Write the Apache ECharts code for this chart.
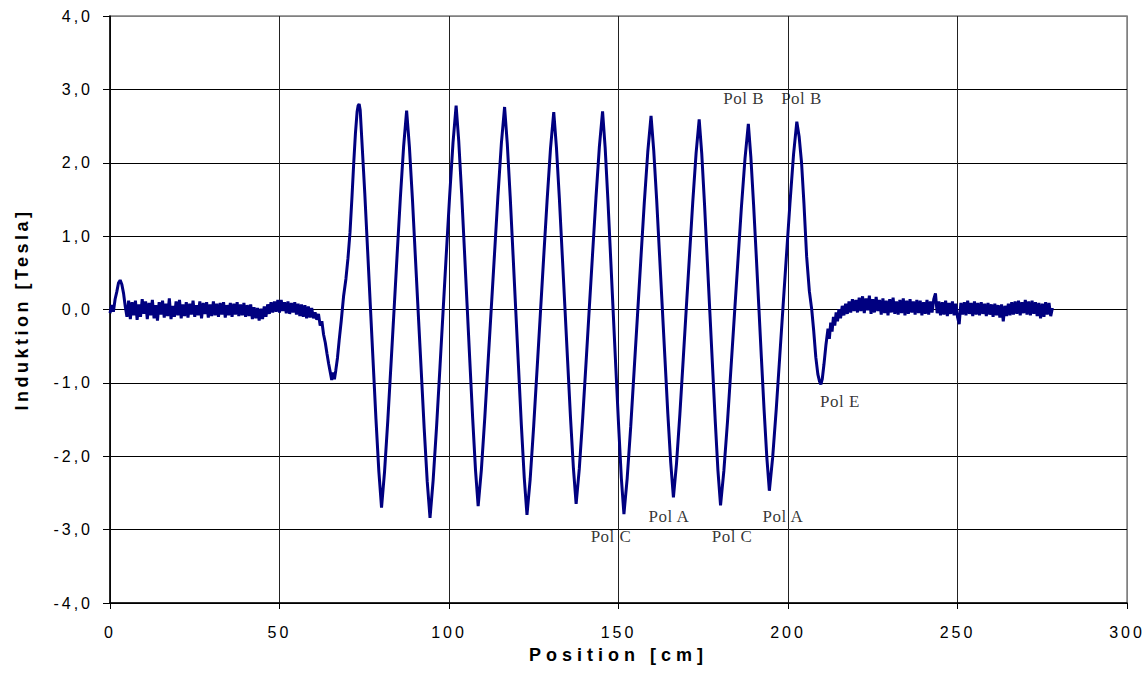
<!DOCTYPE html>
<html>
<head>
<meta charset="utf-8">
<script src="https://cdn.jsdelivr.net/npm/echarts@6/dist/echarts.min.js"></script>
<style>
html,body{margin:0;padding:0;background:#fff;}
#chart{width:1148px;height:685px;}
</style>
</head>
<body>
<div id="chart"></div>
<script>
// ---- data (position in cm, induction in Tesla) ----
var xTicks = [0, 50, 100, 150, 200, 250, 300];
var yTicks = [-4, -3, -2, -1, 0, 1, 2, 3, 4];

// left flat part: sampled every 0.5 cm from 0 cm
var leftStart = 0, leftStep = 0.5;
var leftValues = [
 -0.05,0.06,-0.03,0.14,0.24,0.36,0.4,0.34,0.22,0.04,-0.1,0.12,
 -0.13,0.1,-0.08,0.12,-0.14,0.07,-0.1,0.14,-0.06,0.11,-0.13,0.09,
 -0.08,0.13,-0.12,0.06,-0.15,0.1,-0.07,0.12,-0.11,0.08,-0.09,0.15,
 -0.13,0.05,-0.1,0.11,-0.08,0.13,-0.12,0.07,-0.09,0.1,-0.11,0.08,
 -0.07,0.12,-0.1,0.06,-0.08,0.11,-0.12,0.09,-0.06,0.1,-0.11,0.07,
 -0.09,0.11,-0.08,0.08,-0.1,0.09,-0.07,0.1,-0.11,0.06,-0.08,0.09,
 -0.1,0.08,-0.07,0.1,-0.09,0.07,-0.08,0.09,-0.1,0.06,-0.09,0.07,
 -0.13,0.03,-0.12,0.02,-0.15,0.01,-0.13,0.04,-0.1,0.07,-0.06,0.1,
 -0.04,0.11,-0.03,0.13,-0.04,0.13,-0.02,0.1,-0.05,0.11,-0.06,0.09,
 -0.04,0.1,-0.07,0.08,-0.09,0.07,-0.1,0.06,-0.12,0.04,-0.11,0.02,
 -0.12
];

// pole region: positions (cm) and values (T)
var poleX = [
 60.5,61,61.5,62,62.5,63,63.5,64,64.5,65,65.4,65.8,66.2,66.6,67.1,67.6,68.2,68.9,69.6,70.2,70.8,71.4,71.9,72.4,72.9,73.2,73.5,73.8,
 74.29,75.15,76.01,76.8,77.59,78.45,79.31,80.1,
 80.99,81.95,82.91,83.8,84.69,85.65,86.61,87.5,
 88.33,89.23,90.12,90.95,91.78,92.68,93.57,94.4,
 95.32,96.33,97.33,98.25,99.17,100.18,101.18,102.1,
 102.88,103.73,104.57,105.35,106.13,106.98,107.82,108.6,
 109.54,110.55,111.56,112.5,113.44,114.45,115.46,116.4,
 117.19,118.05,118.91,119.7,120.49,121.35,122.21,123.0,
 123.95,124.98,126.0,126.95,127.9,128.93,129.95,130.9,
 131.69,132.55,133.41,134.2,134.99,135.85,136.71,137.5,
 138.44,139.45,140.46,141.4,142.34,143.35,144.36,145.3,
 146.06,146.88,147.69,148.45,149.21,150.03,150.84,151.6,
 152.56,153.6,154.64,155.6,156.56,157.6,158.64,159.6,
 160.39,161.25,162.11,162.9,163.69,164.55,165.41,166.2,
 167.11,168.1,169.09,170.0,170.91,171.9,172.89,173.8,
 174.56,175.38,176.19,176.95,177.71,178.53,179.34,180.1,
 181.08,182.15,183.22,184.2,185.18,186.25,187.32,188.3,
 189.04,189.85,190.66,191.4,192.14,192.95,193.76,194.5,
 195.47,196.53,197.58,198.55,199.52,200.58,201.63,202.6,
 203.3,204.0,204.7,205.5,206.3,207.0,207.6,208.2,208.8,209.3,209.7,210.1,210.6,211.2,
 211.8,212.2,212.6,213.0,213.4,213.8,214.2,214.6,215,215.5,216,216.5,217,217.5,218,218.5,219,219.5
];
var poleValues = [
 -0.04,-0.14,-0.06,-0.22,-0.16,-0.34,-0.45,-0.6,-0.74,-0.86,-0.96,-0.86,-0.95,-0.83,-0.66,-0.42,-0.16,0.18,0.42,0.7,1.05,1.55,2.0,2.4,2.7,2.78,2.8,2.72,
 2.31,1.59,0.79,0.05,-0.69,-1.49,-2.21,-2.70,
 -2.21,-1.51,-0.73,0.0,0.74,1.52,2.22,2.71,
 2.21,1.49,0.68,-0.07,-0.81,-1.62,-2.34,-2.84,
 -2.33,-1.60,-0.79,-0.03,0.73,1.54,2.27,2.78,
 2.29,1.58,0.79,0.05,-0.69,-1.48,-2.19,-2.68,
 -2.19,-1.48,-0.69,0.04,0.77,1.56,2.27,2.76,
 2.26,1.54,0.73,-0.02,-0.77,-1.58,-2.30,-2.80,
 -2.31,-1.59,-0.80,-0.06,0.69,1.48,2.20,2.69,
 2.21,1.52,0.74,0.02,-0.70,-1.48,-2.17,-2.65,
 -2.17,-1.47,-0.70,0.03,0.75,1.52,2.22,2.70,
 2.21,1.49,0.70,-0.05,-0.79,-1.58,-2.30,-2.79,
 -2.30,-1.60,-0.81,-0.08,0.66,1.45,2.15,2.64,
 2.17,1.50,0.74,0.04,-0.66,-1.42,-2.09,-2.56,
 -2.10,-1.43,-0.68,0.02,0.71,1.46,2.13,2.59,
 2.12,1.43,0.67,-0.04,-0.75,-1.51,-2.20,-2.67,
 -2.20,-1.53,-0.77,-0.07,0.63,1.39,2.06,2.53,
 2.08,1.43,0.71,0.03,-0.65,-1.37,-2.02,-2.47,
 -2.02,-1.36,-0.63,0.05,0.72,1.45,2.11,2.56,
 2.35,2.0,1.45,0.72,0.25,0.0,-0.3,-0.65,-0.88,-0.98,-1.02,-0.95,-0.75,-0.48,
 -0.26,-0.4,-0.18,-0.3,-0.1,-0.22,-0.04,-0.16,0.0,-0.12,0.05,-0.08,0.08,-0.06,0.11,-0.04,0.14,-0.02
];

// right flat part: sampled every 0.5 cm from 220 cm
var rightStart = 220, rightStep = 0.5;
var rightValues = [
 0.13,-0.04,0.16,-0.02,0.18,-0.05,0.15,-0.01,0.19,-0.06,0.14,-0.04,
 0.17,-0.02,0.13,-0.07,0.15,-0.05,0.12,-0.08,0.14,-0.04,0.16,-0.06,
 0.11,-0.07,0.13,-0.05,0.15,-0.08,0.12,-0.06,0.14,-0.04,0.11,-0.07,
 0.13,-0.05,0.12,-0.08,0.1,-0.06,0.13,-0.07,0.11,-0.04,0.14,0.22,
 -0.05,0.11,-0.08,0.1,-0.07,0.12,-0.09,0.09,-0.06,0.11,-0.08,0.08,
 -0.1,-0.2,0.09,-0.07,0.1,-0.08,0.12,-0.06,0.09,-0.09,0.11,-0.07,
 0.09,-0.08,0.1,-0.06,0.08,-0.09,0.09,-0.07,0.07,-0.1,0.08,-0.08,
 0.06,-0.11,0.07,-0.16,0.05,-0.09,0.08,-0.08,0.1,-0.07,0.11,-0.06,
 0.12,-0.08,0.1,-0.05,0.13,-0.07,0.11,-0.08,0.12,-0.06,0.1,-0.09,
 0.09,-0.12,0.08,-0.1,0.1,-0.07,0.09,-0.09,0.02
];

// annotations: [position cm, value T, text]
var poleLabels = [
 [186.9, 2.88, 'Pol B'],
 [204.0, 2.88, 'Pol B'],
 [215.3, -1.25, 'Pol E'],
 [164.9, -2.82, 'Pol A'],
 [198.5, -2.82, 'Pol A'],
 [147.8, -3.09, 'Pol C'],
 [183.5, -3.09, 'Pol C']
];

// ---- build series data ----
var curve = [];
leftValues.forEach(function (v, i) { curve.push([leftStart + i * leftStep, v]); });
poleX.forEach(function (x, i) { curve.push([x, poleValues[i]]); });
rightValues.forEach(function (v, i) { curve.push([rightStart + i * rightStep, v]); });

var sans = "'Liberation Sans', Arial, sans-serif";
var serif = "'Liberation Serif', 'Times New Roman', serif";

var chart = echarts.init(document.getElementById('chart'), null, {renderer: 'svg'});
chart.setOption({
  animation: false,
  backgroundColor: '#ffffff',
  grid: {left: 110, right: 21, top: 16, bottom: 82, show: true, borderColor: '#808080', borderWidth: 1.5, backgroundColor: 'transparent'},
  xAxis: {
    type: 'value', min: xTicks[0], max: xTicks[xTicks.length - 1], interval: 50,
    name: 'Position [cm]', nameLocation: 'middle', nameGap: 43,
    nameTextStyle: {fontFamily: sans, fontWeight: 'bold', fontSize: 18, color: '#000000'},
    axisLine: {show: true, onZero: false, lineStyle: {color: '#000', width: 1.5}},
    axisTick: {show: true, length: 6, lineStyle: {color: '#000'}},
    axisLabel: {margin: 21, fontFamily: sans, fontSize: 16, color: '#000000'},
    splitLine: {show: true, lineStyle: {color: ['#222', '#222', '#222', '#222', '#222', '#222', '#808080'], width: 1}}
  },
  yAxis: {
    type: 'value', min: yTicks[0], max: yTicks[yTicks.length - 1], interval: 1,
    name: 'Induktion [Tesla]', nameLocation: 'middle', nameGap: 79, nameRotate: 90,
    nameTextStyle: {fontFamily: sans, fontWeight: 'bold', fontSize: 18, color: '#000000'},
    axisLine: {show: true, onZero: false, lineStyle: {color: '#000', width: 1.5}},
    axisTick: {show: true, length: 7, lineStyle: {color: '#000'}},
    axisLabel: {margin: 17, fontFamily: sans, fontSize: 16, color: '#000000',
      formatter: function (v) { return v.toFixed(1).replace('.', ','); }},
    splitLine: {show: true, lineStyle: {color: ['#000', '#000', '#000', '#000', '#000', '#000', '#000', '#000', '#808080'], width: 1}}
  },
  series: [
    {
      type: 'line', data: curve, showSymbol: false, symbol: 'none',
      lineStyle: {color: '#000080', width: 3}, z: 3
    },
    {
      type: 'scatter', symbolSize: 0, z: 4,
      data: poleLabels.map(function (p) { return {value: [p[0], p[1]], name: p[2]}; }),
      label: {show: true, position: 'inside', formatter: '{b}', fontFamily: serif, fontSize: 17, color: '#000000'}
    }
  ]
});

function spaceText() {
  var texts = document.querySelectorAll('#chart text');
  texts.forEach(function (t) {
    var s = t.textContent;
    var ls = null;
    if (s === 'Position [cm]') ls = 5;
    else if (s === 'Induktion [Tesla]') ls = 3.5;
    else if (/^Pol /.test(s)) ls = 0.5;
    else if (/^-?[0-9]+(,[0-9])?$/.test(s)) ls = 3;
    if (ls !== null) t.setAttribute('letter-spacing', ls + 'px');
  });
}
spaceText();
chart.on('finished', spaceText);
setTimeout(spaceText, 0);
setTimeout(spaceText, 200);
</script>
</body>
</html>
